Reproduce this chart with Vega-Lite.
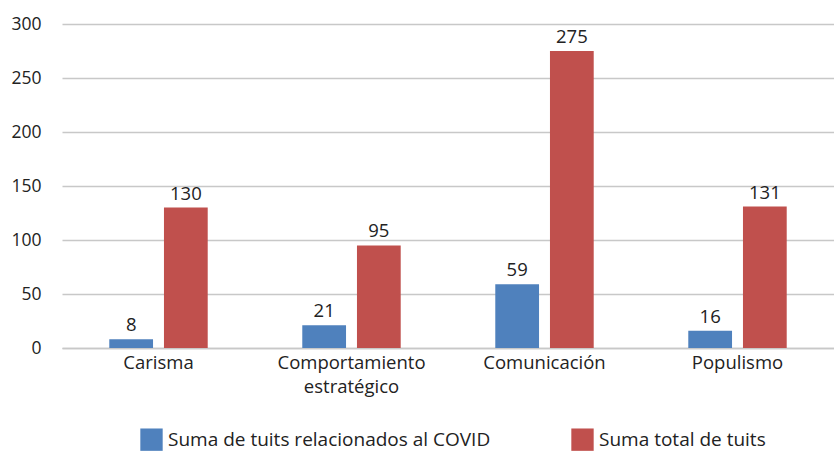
{
  "$schema": "https://vega.github.io/schema/vega-lite/v6.json",
  "width": 772,
  "height": 324,
  "autosize": "none",
  "padding": {"left": 62, "top": 24, "right": 0, "bottom": 103},
  "background": "white",
  "config": {
    "view": {"stroke": null},
    "font": "Open Sans",
    "text": {"font": "Open Sans"}
  },
  "data": {
    "values": [
      {"cat": "Carisma", "serie": "Suma de tuits relacionados al COVID", "v": 8},
      {"cat": "Carisma", "serie": "Suma total de tuits", "v": 130},
      {"cat": "Comportamiento estratégico", "serie": "Suma de tuits relacionados al COVID", "v": 21},
      {"cat": "Comportamiento estratégico", "serie": "Suma total de tuits", "v": 95},
      {"cat": "Comunicación", "serie": "Suma de tuits relacionados al COVID", "v": 59},
      {"cat": "Comunicación", "serie": "Suma total de tuits", "v": 275},
      {"cat": "Populismo", "serie": "Suma de tuits relacionados al COVID", "v": 16},
      {"cat": "Populismo", "serie": "Suma total de tuits", "v": 131}
    ]
  },
  "encoding": {
    "x": {
      "field": "cat", "type": "nominal", "sort": null, "title": null,
      "scale": {"paddingInner": 0.49, "paddingOuter": 0.245},
      "axis": {
        "labelAngle": 0, "labelFontSize": 18.5, "labelColor": "#222", "labelPadding": 5,
        "ticks": false, "domainColor": "#c8c8c8", "domainWidth": 1.5,
        "labelExpr": "datum.label == 'Comportamiento estratégico' ? ['Comportamiento', 'estratégico'] : datum.label",
        "labelLineHeight": 24, "labelLimit": 300
      }
    },
    "xOffset": {"field": "serie", "type": "nominal", "sort": null, "scale": {"paddingInner": 0.2}},
    "y": {
      "field": "v", "type": "quantitative", "title": null,
      "scale": {"domain": [0, 300], "nice": false},
      "axis": {
        "values": [0, 50, 100, 150, 200, 250, 300], "domain": false, "ticks": false,
        "labelFontSize": 17.5, "labelColor": "#222", "labelPadding": 21,
        "gridColor": "#c8c8c8", "gridWidth": 1.5
      }
    }
  },
  "layer": [
    {
      "mark": {"type": "bar"},
      "encoding": {
        "color": {
          "field": "serie", "type": "nominal", "sort": null,
          "scale": {"range": ["#4F81BD", "#C0504D"]},
          "legend": {
            "title": null, "orient": "none", "direction": "horizontal",
            "legendX": 78, "legendY": 404,
            "symbolType": "square", "symbolSize": 500, "symbolStrokeWidth": 0,
            "labelFontSize": 19, "labelColor": "#222", "columnPadding": 80, "labelOffset": 5,
            "labelLimit": 400
          }
        }
      }
    },
    {
      "mark": {"type": "text", "dy": -14, "fontSize": 18.5, "color": "#222"},
      "encoding": {"text": {"field": "v", "type": "quantitative"}}
    }
  ]
}
